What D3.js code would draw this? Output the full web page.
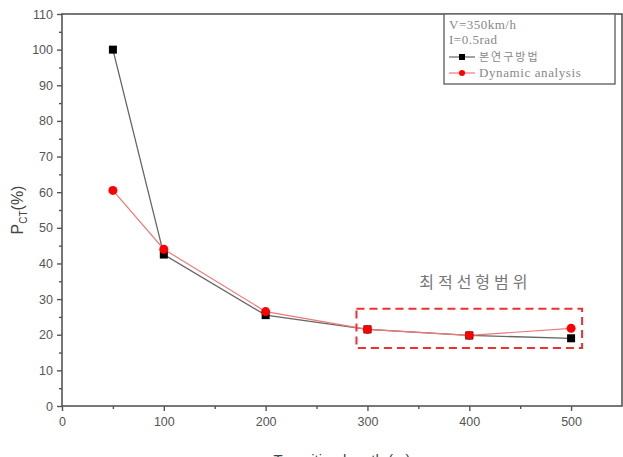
<!DOCTYPE html>
<html>
<head>
<meta charset="utf-8">
<script src="https://cdn.jsdelivr.net/npm/d3@7"></script>
<style>
  body { margin: 0; background: #fff; }
  svg { display: block; }
</style>
</head>
<body>
<div id="chart"></div>
<script>
// data
var lengths = [50, 100, 200, 300, 400, 500];
var proposed = [100, 42.5, 25.5, 21.5, 19.8, 19.0];   // 본연구방법
var dynamic = [60.5, 44.0, 26.5, 21.5, 19.8, 21.8];   // Dynamic analysis
var xTicks = [0, 100, 200, 300, 400, 500];
var yTicks = [0, 10, 20, 30, 40, 50, 60, 70, 80, 90, 100, 110];
var optRange = [300, 500];

var W = 623, H = 457;
var margin = {top: 14, right: 1, bottom: 51, left: 62};
var width = W - margin.left - margin.right,
    height = H - margin.top - margin.bottom;

var x = d3.scaleLinear().domain([0, 550]).range([0, width]);
var y = d3.scaleLinear().domain([0, 110]).range([height, 0]);

var svg = d3.select("#chart").append("svg")
    .attr("width", W)
    .attr("height", H);

var g = svg.append("g")
    .attr("transform", "translate(" + margin.left + "," + margin.top + ")");

var axisColor = "#555";

// frame
g.append("rect")
    .attr("width", width)
    .attr("height", height)
    .attr("fill", "none")
    .attr("stroke", axisColor)
    .attr("stroke-width", 1.6);

// x axis
g.append("g")
    .attr("transform", "translate(0," + height + ")")
    .call(d3.axisBottom(x).tickValues(xTicks).tickSize(5).tickPadding(6));
g.append("g")
    .attr("transform", "translate(0," + height + ")")
    .call(d3.axisBottom(x).tickValues([50, 150, 250, 350, 450]).tickSize(3).tickFormat(""));

// y axis
g.append("g")
    .call(d3.axisLeft(y).tickValues(yTicks).tickSize(5).tickPadding(4));
g.append("g")
    .call(d3.axisLeft(y).tickValues(d3.range(5, 110, 10)).tickSize(3).tickFormat(""));

g.selectAll(".domain").remove();
g.selectAll(".tick line").attr("stroke", axisColor).attr("stroke-width", 1.4);
g.selectAll(".tick text")
    .attr("fill", "#555")
    .style("font-family", "'Liberation Sans', Arial, sans-serif")
    .style("font-size", "12.5px");

// axis titles (x title is cut by the bottom edge in the original)
svg.append("text")
    .attr("x", margin.left + x(275))
    .attr("y", 465)
    .attr("text-anchor", "middle")
    .attr("fill", "#444")
    .style("font-family", "'Liberation Sans', Arial, sans-serif")
    .style("font-size", "15px")
    .text("Transition length (m)");

var yl = svg.append("text")
    .attr("transform", "translate(23," + (margin.top + y(55)) + ") rotate(-90)")
    .attr("text-anchor", "middle")
    .attr("fill", "#444")
    .style("font-family", "'Liberation Sans', Arial, sans-serif")
    .style("font-size", "16px");
yl.append("tspan").text("P");
yl.append("tspan").attr("dy", 4).style("font-size", "10px").text("CT");
yl.append("tspan").attr("dy", -4).text("(%)");

// lines
var line = d3.line()
    .x(function(d) { return x(d[0]); })
    .y(function(d) { return y(d[1]); });

var blackPts = lengths.map(function(l, i) { return [l, proposed[i]]; });
var redPts = lengths.map(function(l, i) { return [l, dynamic[i]]; });

g.append("path")
    .datum(blackPts)
    .attr("d", line)
    .attr("fill", "none")
    .attr("stroke", "#666")
    .attr("stroke-width", 1.3);

g.append("path")
    .datum(redPts)
    .attr("d", line)
    .attr("fill", "none")
    .attr("stroke", "#f07878")
    .attr("stroke-width", 1.2);

g.selectAll(".sq")
    .data(blackPts)
    .enter().append("rect")
    .attr("class", "sq")
    .attr("x", function(d) { return x(d[0]) - 4; })
    .attr("y", function(d) { return y(d[1]) - 4; })
    .attr("width", 8)
    .attr("height", 8)
    .attr("fill", "#000");

g.selectAll(".dot")
    .data(redPts)
    .enter().append("circle")
    .attr("class", "dot")
    .attr("cx", function(d) { return x(d[0]); })
    .attr("cy", function(d) { return y(d[1]); })
    .attr("r", 4.5)
    .attr("fill", "#f00");

// optimal range box
g.append("rect")
    .attr("x", x(optRange[0]) - 11)
    .attr("y", y(27.3))
    .attr("width", x(optRange[1]) - x(optRange[0]) + 22)
    .attr("height", y(16.3) - y(27.3))
    .attr("fill", "none")
    .attr("stroke", "#f03030")
    .attr("stroke-width", 2)
    .attr("stroke-dasharray", "8,5");

g.append("text")
    .attr("x", x(406))
    .attr("y", y(33))
    .attr("text-anchor", "middle")
    .attr("fill", "#777")
    .style("font-family", "'Noto Sans CJK KR', sans-serif")
    .style("font-size", "16px")
    .style("letter-spacing", "4px")
    .text("최적선형범위");

// legend
var lg = g.append("g").attr("transform", "translate(" + (width - 178) + ",0)");
lg.append("rect")
    .attr("width", 171)
    .attr("height", 70)
    .attr("fill", "#fff")
    .attr("stroke", "#666")
    .attr("stroke-width", 1.4);

var serif = "'Liberation Serif', 'Times New Roman', serif";
lg.append("text").attr("x", 5).attr("y", 15)
    .attr("fill", "#888").style("font-family", serif).style("font-size", "13px")
    .style("letter-spacing", "0.5px")
    .text("V=350km/h");
lg.append("text").attr("x", 5).attr("y", 30)
    .attr("fill", "#888").style("font-family", serif).style("font-size", "13px")
    .style("letter-spacing", "0.5px")
    .text("I=0.5rad");

var legendItems = [
  {name: "본연구방법", color: "#666", mark: "#000", square: true},
  {name: "Dynamic analysis", color: "#f07878", mark: "#f00", square: false}
];
legendItems.forEach(function(d, i) {
  var yy = 43 + i * 16;
  lg.append("line")
      .attr("x1", 5).attr("x2", 31)
      .attr("y1", yy).attr("y2", yy)
      .attr("stroke", d.color).attr("stroke-width", 1.2);
  if (d.square) {
    lg.append("rect").attr("x", 15).attr("y", yy - 3).attr("width", 6).attr("height", 6).attr("fill", d.mark);
  } else {
    lg.append("circle").attr("cx", 18).attr("cy", yy).attr("r", 3).attr("fill", d.mark);
  }
  lg.append("text").attr("x", 35).attr("y", yy + 4)
      .attr("fill", "#888")
      .style("font-family", i === 0 ? "'Noto Sans CJK KR', sans-serif" : serif)
      .style("font-size", i === 0 ? "11px" : "13px")
      .style("letter-spacing", i === 0 ? "2px" : "0.6px")
      .text(d.name);
});
</script>
</body>
</html>
